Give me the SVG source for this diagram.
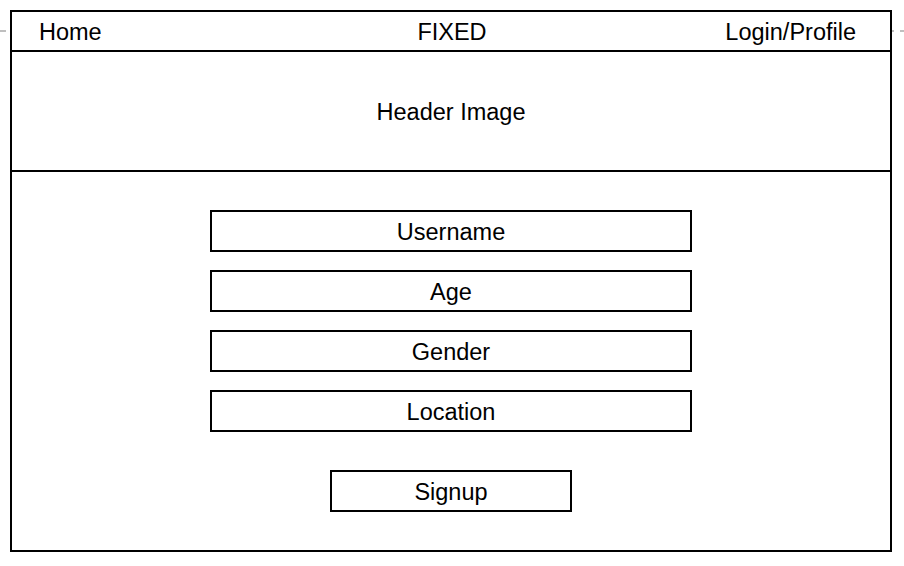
<svg xmlns="http://www.w3.org/2000/svg" width="904" height="566" viewBox="0 0 904 566">
<style>
.box{fill:#fff;stroke:#000;stroke-width:2}
.t{font-family:"Liberation Sans",Arial,sans-serif;font-size:23.5px;fill:#000}
.c{text-anchor:middle}
</style>
<rect width="904" height="566" fill="#fff"/>
<g id="connectors">
<line x1="0" y1="31" x2="904" y2="31" stroke="#aaa" stroke-width="1.5" stroke-dasharray="6 6"/>
</g>
<g id="page"><rect class="box" x="11" y="11" width="880" height="540"/></g>
<g id="navbar">
<rect class="box" x="11" y="11" width="880" height="40"/>
<text class="t" x="39" y="40">Home</text>
<text class="t c" x="452" y="40">FIXED</text>
<text class="t" x="856" y="40" text-anchor="end">Login/Profile</text>
</g>
<g id="header"><rect class="box" x="11" y="51" width="880" height="120"/><text class="t c" x="451" y="120">Header Image</text></g>
<g id="username"><rect class="box" x="211" y="211" width="480" height="40"/><text class="t c" x="451" y="240">Username</text></g>
<g id="age"><rect class="box" x="211" y="271" width="480" height="40"/><text class="t c" x="451" y="300">Age</text></g>
<g id="gender"><rect class="box" x="211" y="331" width="480" height="40"/><text class="t c" x="451" y="360">Gender</text></g>
<g id="location"><rect class="box" x="211" y="391" width="480" height="40"/><text class="t c" x="451" y="420">Location</text></g>
<g id="signup"><rect class="box" x="331" y="471" width="240" height="40"/><text class="t c" x="451" y="500">Signup</text></g>
</svg>
